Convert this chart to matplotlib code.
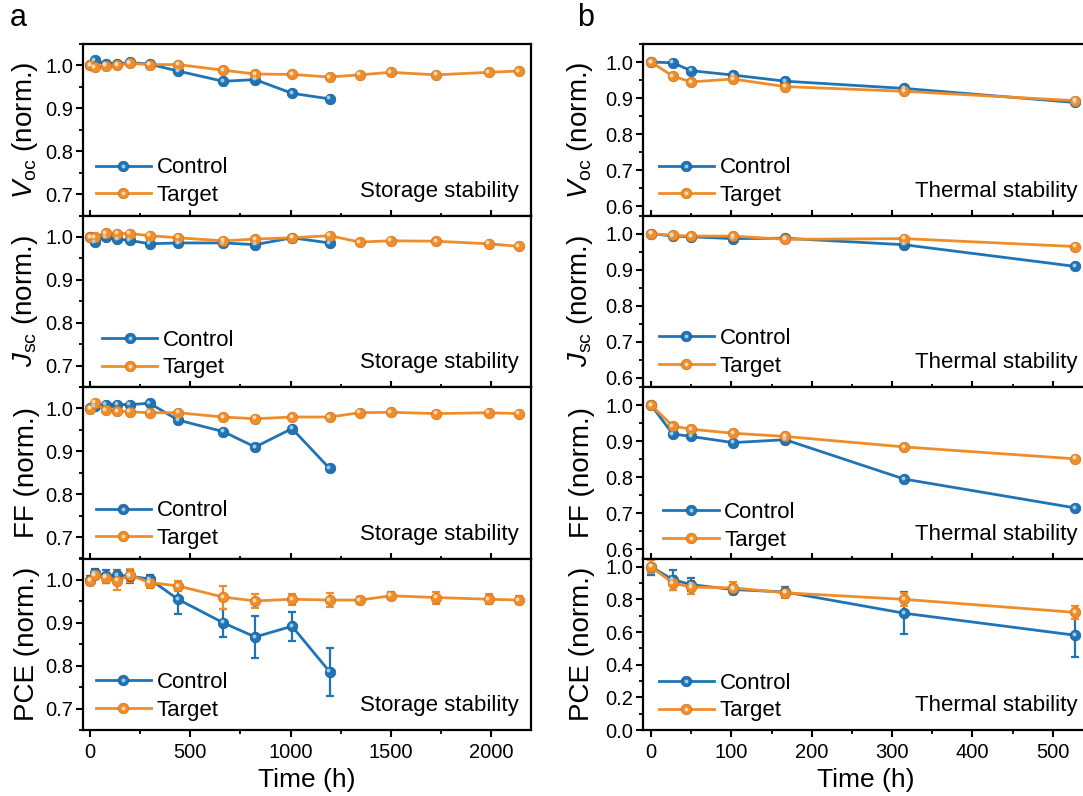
import matplotlib
matplotlib.use("Agg")
import matplotlib.pyplot as plt
from matplotlib.transforms import offset_copy
from matplotlib.ticker import MultipleLocator, FormatStrFormatter
from matplotlib.legend_handler import HandlerTuple

plt.rcParams['font.family'] = ['Liberation Sans', 'DejaVu Sans']
plt.rcParams['mathtext.fontset'] = 'custom'
plt.rcParams['mathtext.rm'] = 'Liberation Sans'
plt.rcParams['mathtext.it'] = 'Liberation Sans:italic'

# ---------------- data: storage stability (panel a) ----------------
time_a_target = [0, 24, 78, 136, 197, 297, 438, 664, 823, 1007, 1194, 1344, 1499, 1725, 1987, 2137]
time_a_control = [0, 24, 78, 136, 197, 297, 438, 664, 823, 1007, 1194]

voc_a_control = [1.000, 1.012, 1.003, 1.003, 1.007, 1.003, 0.987, 0.963, 0.967, 0.935, 0.922]
voc_a_target = [1.000, 0.996, 0.999, 1.000, 1.005, 1.002, 1.002, 0.989, 0.980, 0.979, 0.973,
                0.978, 0.984, 0.978, 0.984, 0.987]

jsc_a_control = [1.000, 0.988, 1.000, 0.995, 0.992, 0.984, 0.986, 0.986, 0.982, 0.998, 0.986]
jsc_a_target = [1.000, 1.000, 1.009, 1.008, 1.008, 1.003, 0.998, 0.991, 0.995, 0.998, 1.003,
                0.988, 0.991, 0.990, 0.984, 0.978]

ff_a_control = [1.000, 1.005, 1.009, 1.009, 1.009, 1.012, 0.973, 0.946, 0.910, 0.953, 0.860]
ff_a_target = [0.999, 1.013, 0.996, 0.994, 0.992, 0.990, 0.990, 0.980, 0.976, 0.980, 0.980,
               0.990, 0.991, 0.988, 0.990, 0.988]

pce_a_control = [1.000, 1.016, 1.009, 1.011, 1.009, 1.002, 0.955, 0.900, 0.867, 0.892, 0.786]
pce_a_control_err = [0.010, 0.010, 0.015, 0.012, 0.015, 0.010, 0.035, 0.033, 0.048, 0.034, 0.056]
pce_a_target = [0.998, 1.011, 1.005, 0.998, 1.011, 0.994, 0.986, 0.960, 0.951, 0.955, 0.953,
                0.953, 0.963, 0.959, 0.955, 0.953]
pce_a_target_err = [0.010, 0.008, 0.012, 0.022, 0.015, 0.012, 0.012, 0.027, 0.017, 0.013, 0.016,
                    0.008, 0.008, 0.014, 0.012, 0.010]

# ---------------- data: thermal stability (panel b) ----------------
time_b = [0, 27, 50, 102, 167, 315, 528]

voc_b_control = [1.000, 0.998, 0.976, 0.964, 0.947, 0.927, 0.888]
voc_b_target = [1.000, 0.961, 0.945, 0.953, 0.932, 0.919, 0.893]

jsc_b_control = [1.000, 0.993, 0.991, 0.986, 0.987, 0.969, 0.909]
jsc_b_target = [1.000, 0.995, 0.993, 0.993, 0.984, 0.986, 0.964]

ff_b_control = [1.000, 0.920, 0.913, 0.896, 0.904, 0.795, 0.715]
ff_b_target = [1.000, 0.942, 0.933, 0.922, 0.913, 0.884, 0.851]

pce_b_control = [1.000, 0.920, 0.890, 0.860, 0.845, 0.715, 0.580]
pce_b_control_err = [0.050, 0.060, 0.040, 0.030, 0.030, 0.130, 0.135]
pce_b_target = [1.000, 0.900, 0.875, 0.870, 0.840, 0.800, 0.720]
pce_b_target_err = [0.040, 0.040, 0.040, 0.035, 0.030, 0.040, 0.040]

ylabels = [r'$\it{V}$$_{\rm oc}$ (norm.)', r'$\it{J}$$_{\rm sc}$ (norm.)', 'FF (norm.)', 'PCE (norm.)']
legend_labels = ['Control', 'Target']
notes = ['Storage stability', 'Thermal stability']

BLUE = '#1f74b6'
BLUE_E = '#165c94'
BLUE_H = '#a8d6f7'
ORANGE = '#ef8d2b'
ORANGE_E = '#cf7318'
ORANGE_H = '#fde3bd'

W, H = 1083, 796
fig = plt.figure(figsize=(W / 100, H / 100), dpi=100)

top_px, row_h = 44, 171.5
cols = [(83, 531), (643, 1089)]


def add_axes(col, row):
    l, r = cols[col]
    b = top_px + (row + 1) * row_h
    return fig.add_axes([l / W, 1 - b / H, (r - l) / W, row_h / H])


def series(ax, x, y, color, ecolor, hcolor, err=None):
    if err is not None:
        ax.errorbar(x, y, yerr=err, fmt='none', ecolor=color, elinewidth=1.6,
                    capsize=3.2, capthick=1.6, zorder=2)
    ln, = ax.plot(x, y, '-', color=color, lw=2.0, marker='o', ms=7.6,
                  mfc=color, mec=ecolor, mew=0.5, zorder=3)
    tr = offset_copy(ax.transData, fig=fig, x=-1.0, y=1.0, units='points')
    hl, = ax.plot(x, y, ls='none', marker='o', ms=2.8, mfc=hcolor, mec='none',
                  alpha=0.9, transform=tr, zorder=4)
    return ln, hl


data_a = [
    (voc_a_control, voc_a_target, None, None),
    (jsc_a_control, jsc_a_target, None, None),
    (ff_a_control, ff_a_target, None, None),
    (pce_a_control, pce_a_target, pce_a_control_err, pce_a_target_err),
]
data_b = [
    (voc_b_control, voc_b_target, None, None),
    (jsc_b_control, jsc_b_target, None, None),
    (ff_b_control, ff_b_target, None, None),
    (pce_b_control, pce_b_target, pce_b_control_err, pce_b_target_err),
]

legend_pos_a = [(0.028, 0.055), (0.042, 0.05), (0.028, 0.055), (0.028, 0.055)]
legend_pos_b = [(0.035, 0.055), (0.035, 0.06), (0.045, 0.045), (0.035, 0.05)]

for col in range(2):
    for row in range(4):
        ax = add_axes(col, row)
        if col == 0:
            c, t, ce, te = data_a[row]
            xc, xt = time_a_control, time_a_target
            ax.set_xlim(-35, 2198)
            ax.xaxis.set_major_locator(MultipleLocator(500))
            ax.xaxis.set_minor_locator(MultipleLocator(250))
            ax.set_ylim(0.65, 1.05)
            ax.yaxis.set_major_locator(MultipleLocator(0.1))
            ax.yaxis.set_minor_locator(MultipleLocator(0.05))
            lpos = legend_pos_a[row]
        else:
            c, t, ce, te = data_b[row]
            xc, xt = time_b, time_b
            ax.set_xlim(-10, 545)
            ax.xaxis.set_major_locator(MultipleLocator(100))
            ax.xaxis.set_minor_locator(MultipleLocator(50))
            if row < 3:
                ax.set_ylim(0.575, 1.05)
                ax.yaxis.set_major_locator(MultipleLocator(0.1))
                ax.yaxis.set_minor_locator(MultipleLocator(0.05))
            else:
                ax.set_ylim(0.0, 1.05)
                ax.yaxis.set_major_locator(MultipleLocator(0.2))
                ax.yaxis.set_minor_locator(MultipleLocator(0.1))
            lpos = legend_pos_b[row]

        hc = series(ax, xc, c, BLUE, BLUE_E, BLUE_H, ce)
        ht = series(ax, xt, t, ORANGE, ORANGE_E, ORANGE_H, te)

        ax.yaxis.set_major_formatter(FormatStrFormatter('%.1f'))
        for sp in ax.spines.values():
            sp.set_linewidth(1.6)
        ax.tick_params(axis='y', which='major', direction='out', length=5, width=1.5,
                       labelsize=14.5, pad=2, right=False)
        ax.tick_params(axis='y', which='minor', direction='out', length=3, width=1.3, right=False)
        if row < 3:
            ax.tick_params(axis='x', which='major', direction='inout', length=8, width=1.5,
                           labelbottom=False, top=False)
            ax.tick_params(axis='x', which='minor', direction='inout', length=5, width=1.3, top=False)
        else:
            ax.tick_params(axis='x', which='major', direction='out', length=5, width=1.5,
                           labelsize=14.5, pad=4, top=False)
            ax.tick_params(axis='x', which='minor', direction='out', length=3, width=1.3, top=False)
            ax.set_xlabel('Time (h)', fontsize=19, labelpad=5)

        ax.set_ylabel(ylabels[row], fontsize=20)
        ax.yaxis.set_label_coords(-0.097 if col == 0 else -0.107, 0.5)

        ax.legend([hc, ht], legend_labels, loc='lower left',
                  bbox_to_anchor=lpos, frameon=False, fontsize=16,
                  handlelength=2.5, handletextpad=0.25, labelspacing=0.3,
                  borderpad=0, borderaxespad=0,
                  handler_map={tuple: HandlerTuple(ndivide=1, pad=0)})
        ax.text(0.972 if col == 0 else 0.975, 0.14, notes[col], transform=ax.transAxes,
                ha='right', va='center', fontsize=16)

fig.text(18 / W, 1 - 18 / H, 'a', fontsize=22, ha='center', va='center')
fig.text(586 / W, 1 - 18 / H, 'b', fontsize=22, ha='center', va='center')

fig.savefig('out.png', dpi=100)
